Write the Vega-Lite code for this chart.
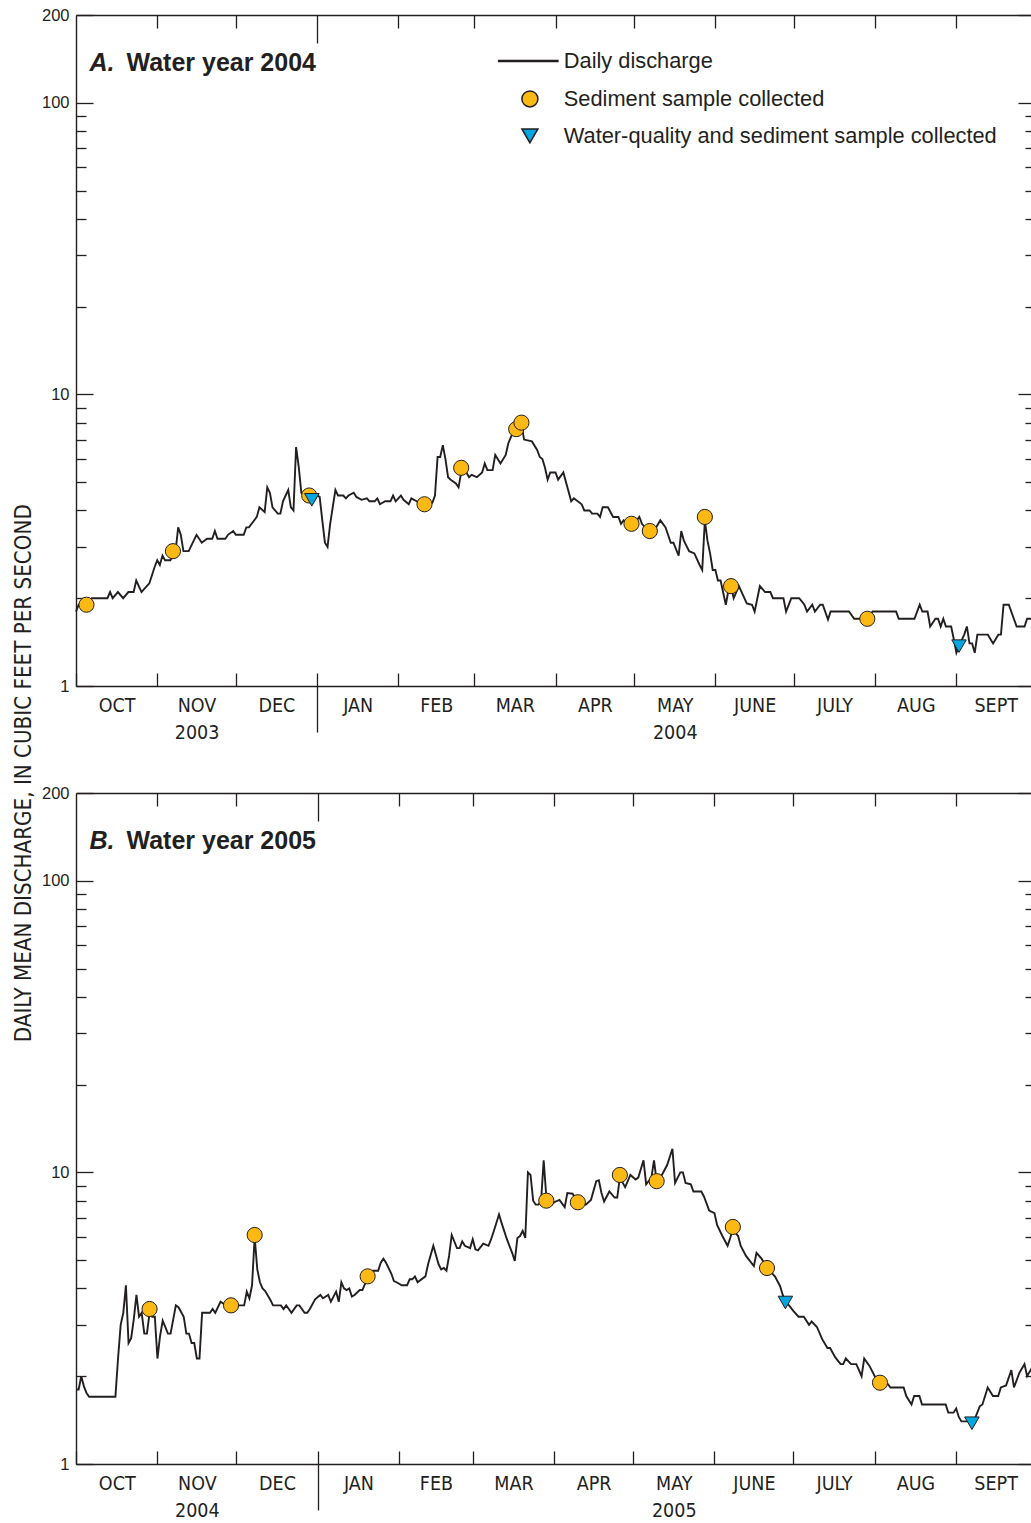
{
  "$schema": "https://vega.github.io/schema/vega-lite/v6.json",
  "background": "white",
  "padding": {"left": 12, "top": 7, "right": 0, "bottom": 0},
  "config": {
    "view": {"stroke": null},
    "font": "Liberation Sans",
    "axis": {"grid": false, "domainColor": "#231f20", "tickColor": "#231f20", "domainWidth": 1.4, "tickWidth": 1.3, "labelColor": "#231f20", "titleColor": "#231f20"}
  },
  "title": {"text": "DAILY MEAN DISCHARGE, IN CUBIC FEET PER SECOND", "orient": "left", "anchor": "middle", "font": "DejaVu Sans Condensed", "fontSize": 22.2, "fontWeight": "normal", "color": "#231f20", "offset": -11.5, "dx": -10, "baseline": "alphabetic"},
  "datasets": {
    "flow2004": [
      {"date":"2003/10/01","discharge":1.8},{"date":"2003/10/02","discharge":1.9},{"date":"2003/10/04","discharge":1.9},{"date":"2003/10/07","discharge":2.0},{"date":"2003/10/13","discharge":2.0},{"date":"2003/10/14","discharge":2.1},{"date":"2003/10/15","discharge":2.0},{"date":"2003/10/17","discharge":2.1},{"date":"2003/10/19","discharge":2.0},{"date":"2003/10/21","discharge":2.1},{"date":"2003/10/23","discharge":2.1},{"date":"2003/10/24","discharge":2.3},{"date":"2003/10/26","discharge":2.1},{"date":"2003/10/28","discharge":2.2},{"date":"2003/10/29","discharge":2.25},{"date":"2003/10/31","discharge":2.56},
      {"date":"2003/11/01","discharge":2.7},{"date":"2003/11/02","discharge":2.6},{"date":"2003/11/03","discharge":2.8},{"date":"2003/11/04","discharge":2.7},{"date":"2003/11/06","discharge":2.7},{"date":"2003/11/07","discharge":2.8},{"date":"2003/11/08","discharge":2.9},{"date":"2003/11/09","discharge":3.5},{"date":"2003/11/10","discharge":3.3},{"date":"2003/11/11","discharge":2.9},{"date":"2003/11/13","discharge":2.9},{"date":"2003/11/16","discharge":3.3},{"date":"2003/11/18","discharge":3.1},{"date":"2003/11/20","discharge":3.2},{"date":"2003/11/22","discharge":3.2},{"date":"2003/11/23","discharge":3.4},{"date":"2003/11/24","discharge":3.2},{"date":"2003/11/27","discharge":3.2},{"date":"2003/11/28","discharge":3.3},{"date":"2003/11/30","discharge":3.4},
      {"date":"2003/12/01","discharge":3.3},{"date":"2003/12/04","discharge":3.3},{"date":"2003/12/05","discharge":3.5},{"date":"2003/12/06","discharge":3.5},{"date":"2003/12/09","discharge":3.8},{"date":"2003/12/10","discharge":4.1},{"date":"2003/12/12","discharge":3.95},{"date":"2003/12/13","discharge":4.8},{"date":"2003/12/14","discharge":4.6},{"date":"2003/12/15","discharge":4.1},{"date":"2003/12/17","discharge":3.9},{"date":"2003/12/18","discharge":3.9},{"date":"2003/12/19","discharge":4.3},{"date":"2003/12/20","discharge":4.5},{"date":"2003/12/21","discharge":4.7},{"date":"2003/12/22","discharge":4.1},{"date":"2003/12/23","discharge":4.0},{"date":"2003/12/24","discharge":6.6},{"date":"2003/12/25","discharge":5.65},{"date":"2003/12/26","discharge":4.6},{"date":"2003/12/27","discharge":4.5},{"date":"2003/12/28","discharge":4.5},{"date":"2003/12/29","discharge":4.5},{"date":"2003/12/30","discharge":4.35},{"date":"2003/12/31","discharge":4.4},
      {"date":"2004/01/01","discharge":4.5},{"date":"2004/01/02","discharge":4.45},{"date":"2004/01/03","discharge":3.7},{"date":"2004/01/04","discharge":3.1},{"date":"2004/01/05","discharge":3.0},{"date":"2004/01/06","discharge":3.6},{"date":"2004/01/08","discharge":4.7},{"date":"2004/01/09","discharge":4.5},{"date":"2004/01/11","discharge":4.5},{"date":"2004/01/12","discharge":4.4},{"date":"2004/01/13","discharge":4.5},{"date":"2004/01/15","discharge":4.6},{"date":"2004/01/16","discharge":4.45},{"date":"2004/01/18","discharge":4.35},{"date":"2004/01/20","discharge":4.4},{"date":"2004/01/21","discharge":4.3},{"date":"2004/01/23","discharge":4.3},{"date":"2004/01/24","discharge":4.4},{"date":"2004/01/25","discharge":4.2},{"date":"2004/01/27","discharge":4.3},{"date":"2004/01/29","discharge":4.3},{"date":"2004/01/30","discharge":4.5},{"date":"2004/01/31","discharge":4.3},
      {"date":"2004/02/02","discharge":4.5},{"date":"2004/02/03","discharge":4.35},{"date":"2004/02/05","discharge":4.2},{"date":"2004/02/06","discharge":4.4},{"date":"2004/02/08","discharge":4.3},{"date":"2004/02/11","discharge":4.15},{"date":"2004/02/14","discharge":4.25},{"date":"2004/02/15","discharge":4.5},{"date":"2004/02/16","discharge":6.1},{"date":"2004/02/17","discharge":6.1},{"date":"2004/02/18","discharge":6.7},{"date":"2004/02/19","discharge":6.0},{"date":"2004/02/20","discharge":5.2},{"date":"2004/02/21","discharge":5.1},{"date":"2004/02/23","discharge":4.95},{"date":"2004/02/24","discharge":4.8},{"date":"2004/02/25","discharge":5.4},{"date":"2004/02/27","discharge":5.4},{"date":"2004/02/28","discharge":5.2},{"date":"2004/02/29","discharge":5.3},
      {"date":"2004/03/02","discharge":5.2},{"date":"2004/03/04","discharge":5.4},{"date":"2004/03/05","discharge":5.8},{"date":"2004/03/06","discharge":5.5},{"date":"2004/03/08","discharge":5.5},{"date":"2004/03/09","discharge":6.2},{"date":"2004/03/11","discharge":5.8},{"date":"2004/03/13","discharge":6.2},{"date":"2004/03/14","discharge":6.8},{"date":"2004/03/16","discharge":7.5},{"date":"2004/03/17","discharge":7.6},{"date":"2004/03/18","discharge":7.9},{"date":"2004/03/19","discharge":7.9},{"date":"2004/03/20","discharge":7.0},{"date":"2004/03/23","discharge":6.9},{"date":"2004/03/25","discharge":6.45},{"date":"2004/03/26","discharge":6.1},{"date":"2004/03/27","discharge":6.0},{"date":"2004/03/28","discharge":5.6},{"date":"2004/03/29","discharge":5.1},{"date":"2004/03/30","discharge":5.4},
      {"date":"2004/04/01","discharge":5.4},{"date":"2004/04/02","discharge":5.1},{"date":"2004/04/04","discharge":5.4},{"date":"2004/04/07","discharge":4.3},{"date":"2004/04/08","discharge":4.4},{"date":"2004/04/11","discharge":4.2},{"date":"2004/04/12","discharge":4.0},{"date":"2004/04/14","discharge":4.0},{"date":"2004/04/15","discharge":3.9},{"date":"2004/04/17","discharge":3.9},{"date":"2004/04/18","discharge":3.8},{"date":"2004/04/19","discharge":4.1},{"date":"2004/04/21","discharge":4.1},{"date":"2004/04/23","discharge":3.8},{"date":"2004/04/25","discharge":3.8},{"date":"2004/04/26","discharge":3.6},{"date":"2004/04/27","discharge":3.7},{"date":"2004/04/30","discharge":3.55},
      {"date":"2004/05/02","discharge":3.7},{"date":"2004/05/03","discharge":3.8},{"date":"2004/05/04","discharge":3.6},{"date":"2004/05/07","discharge":3.35},{"date":"2004/05/08","discharge":3.35},{"date":"2004/05/09","discharge":3.45},{"date":"2004/05/11","discharge":3.7},{"date":"2004/05/13","discharge":3.5},{"date":"2004/05/15","discharge":3.1},{"date":"2004/05/16","discharge":3.1},{"date":"2004/05/18","discharge":2.8},{"date":"2004/05/19","discharge":3.4},{"date":"2004/05/20","discharge":3.15},{"date":"2004/05/22","discharge":2.9},{"date":"2004/05/24","discharge":2.85},{"date":"2004/05/26","discharge":2.6},{"date":"2004/05/27","discharge":2.5},{"date":"2004/05/28","discharge":3.7},{"date":"2004/05/29","discharge":3.15},{"date":"2004/05/30","discharge":2.85},{"date":"2004/05/31","discharge":2.5},
      {"date":"2004/06/01","discharge":2.5},{"date":"2004/06/02","discharge":2.3},{"date":"2004/06/03","discharge":2.3},{"date":"2004/06/05","discharge":1.9},{"date":"2004/06/06","discharge":2.13},{"date":"2004/06/07","discharge":2.2},{"date":"2004/06/08","discharge":2.0},{"date":"2004/06/10","discharge":2.2},{"date":"2004/06/13","discharge":1.92},{"date":"2004/06/15","discharge":1.9},{"date":"2004/06/16","discharge":1.8},{"date":"2004/06/18","discharge":2.2},{"date":"2004/06/20","discharge":2.1},{"date":"2004/06/22","discharge":2.1},{"date":"2004/06/23","discharge":2.0},{"date":"2004/06/27","discharge":2.0},{"date":"2004/06/28","discharge":1.8},{"date":"2004/06/30","discharge":2.0},
      {"date":"2004/07/03","discharge":2.0},{"date":"2004/07/05","discharge":1.9},{"date":"2004/07/06","discharge":1.8},{"date":"2004/07/08","discharge":1.9},{"date":"2004/07/09","discharge":1.8},{"date":"2004/07/11","discharge":1.9},{"date":"2004/07/12","discharge":1.9},{"date":"2004/07/14","discharge":1.69},{"date":"2004/07/15","discharge":1.8},{"date":"2004/07/22","discharge":1.8},{"date":"2004/07/24","discharge":1.7},{"date":"2004/07/27","discharge":1.7},{"date":"2004/07/29","discharge":1.7},{"date":"2004/07/31","discharge":1.8},
      {"date":"2004/08/01","discharge":1.8},{"date":"2004/08/09","discharge":1.8},{"date":"2004/08/10","discharge":1.7},{"date":"2004/08/16","discharge":1.7},{"date":"2004/08/18","discharge":1.9},{"date":"2004/08/19","discharge":1.8},{"date":"2004/08/21","discharge":1.8},{"date":"2004/08/22","discharge":1.6},{"date":"2004/08/24","discharge":1.7},{"date":"2004/08/25","discharge":1.7},{"date":"2004/08/26","discharge":1.6},{"date":"2004/08/27","discharge":1.7},{"date":"2004/08/28","discharge":1.6},{"date":"2004/08/30","discharge":1.6},{"date":"2004/08/31","discharge":1.45},
      {"date":"2004/09/01","discharge":1.3},{"date":"2004/09/02","discharge":1.37},{"date":"2004/09/04","discharge":1.5},{"date":"2004/09/05","discharge":1.6},{"date":"2004/09/06","discharge":1.4},{"date":"2004/09/07","discharge":1.4},{"date":"2004/09/08","discharge":1.3},{"date":"2004/09/09","discharge":1.5},{"date":"2004/09/13","discharge":1.5},{"date":"2004/09/15","discharge":1.4},{"date":"2004/09/17","discharge":1.5},{"date":"2004/09/18","discharge":1.5},{"date":"2004/09/19","discharge":1.9},{"date":"2004/09/21","discharge":1.9},{"date":"2004/09/24","discharge":1.6},{"date":"2004/09/27","discharge":1.6},{"date":"2004/09/28","discharge":1.7},{"date":"2004/09/30","discharge":1.7}
    ],
    "sed2004": [
      {"date":"2003/10/05","discharge":1.9},{"date":"2003/11/07","discharge":2.9},{"date":"2003/12/29","discharge":4.5},{"date":"2004/02/11","discharge":4.2},{"date":"2004/02/25","discharge":5.6},{"date":"2004/03/17","discharge":7.6},{"date":"2004/03/19","discharge":8.0},{"date":"2004/04/30","discharge":3.6},{"date":"2004/05/07","discharge":3.4},{"date":"2004/05/28","discharge":3.8},{"date":"2004/06/07","discharge":2.2},{"date":"2004/07/29","discharge":1.7}
    ],
    "wq2004": [
      {"date":"2003/12/30","discharge":4.35},{"date":"2004/09/02","discharge":1.37}
    ],
    "flow2005": [
      {"date":"2004/10/01","discharge":1.8},{"date":"2004/10/02","discharge":1.8},{"date":"2004/10/03","discharge":2.0},{"date":"2004/10/04","discharge":1.85},{"date":"2004/10/05","discharge":1.75},{"date":"2004/10/06","discharge":1.7},{"date":"2004/10/16","discharge":1.7},{"date":"2004/10/17","discharge":2.3},{"date":"2004/10/18","discharge":3.0},{"date":"2004/10/19","discharge":3.3},{"date":"2004/10/20","discharge":4.1},{"date":"2004/10/21","discharge":2.6},{"date":"2004/10/22","discharge":2.7},{"date":"2004/10/23","discharge":3.14},{"date":"2004/10/24","discharge":3.8},{"date":"2004/10/25","discharge":3.2},{"date":"2004/10/26","discharge":3.3},{"date":"2004/10/27","discharge":2.8},{"date":"2004/10/28","discharge":2.8},{"date":"2004/10/29","discharge":3.3},{"date":"2004/10/30","discharge":3.2},{"date":"2004/10/31","discharge":3.2},
      {"date":"2004/11/01","discharge":2.3},{"date":"2004/11/02","discharge":2.75},{"date":"2004/11/03","discharge":3.1},{"date":"2004/11/05","discharge":2.8},{"date":"2004/11/06","discharge":2.8},{"date":"2004/11/08","discharge":3.5},{"date":"2004/11/09","discharge":3.45},{"date":"2004/11/11","discharge":3.2},{"date":"2004/11/12","discharge":2.8},{"date":"2004/11/13","discharge":2.8},{"date":"2004/11/14","discharge":2.6},{"date":"2004/11/15","discharge":2.6},{"date":"2004/11/16","discharge":2.3},{"date":"2004/11/17","discharge":2.3},{"date":"2004/11/18","discharge":3.3},{"date":"2004/11/21","discharge":3.3},{"date":"2004/11/22","discharge":3.4},{"date":"2004/11/23","discharge":3.3},{"date":"2004/11/25","discharge":3.6},{"date":"2004/11/27","discharge":3.5},{"date":"2004/11/29","discharge":3.5},
      {"date":"2004/12/01","discharge":3.5},{"date":"2004/12/04","discharge":3.5},{"date":"2004/12/05","discharge":3.9},{"date":"2004/12/06","discharge":3.7},{"date":"2004/12/07","discharge":4.1},{"date":"2004/12/08","discharge":6.0},{"date":"2004/12/09","discharge":4.65},{"date":"2004/12/10","discharge":4.2},{"date":"2004/12/11","discharge":4.0},{"date":"2004/12/12","discharge":3.92},{"date":"2004/12/14","discharge":3.65},{"date":"2004/12/15","discharge":3.5},{"date":"2004/12/18","discharge":3.5},{"date":"2004/12/19","discharge":3.4},{"date":"2004/12/20","discharge":3.5},{"date":"2004/12/21","discharge":3.4},{"date":"2004/12/22","discharge":3.3},{"date":"2004/12/24","discharge":3.5},{"date":"2004/12/25","discharge":3.5},{"date":"2004/12/27","discharge":3.3},{"date":"2004/12/28","discharge":3.3},{"date":"2004/12/29","discharge":3.4},{"date":"2004/12/31","discharge":3.67},
      {"date":"2005/01/02","discharge":3.8},{"date":"2005/01/03","discharge":3.7},{"date":"2005/01/05","discharge":3.8},{"date":"2005/01/06","discharge":3.6},{"date":"2005/01/07","discharge":3.75},{"date":"2005/01/08","discharge":3.9},{"date":"2005/01/09","discharge":3.6},{"date":"2005/01/10","discharge":4.2},{"date":"2005/01/11","discharge":4.0},{"date":"2005/01/12","discharge":3.95},{"date":"2005/01/13","discharge":4.0},{"date":"2005/01/14","discharge":3.75},{"date":"2005/01/15","discharge":3.8},{"date":"2005/01/17","discharge":3.95},{"date":"2005/01/18","discharge":3.95},{"date":"2005/01/20","discharge":4.35},{"date":"2005/01/22","discharge":4.6},{"date":"2005/01/24","discharge":4.6},{"date":"2005/01/25","discharge":4.9},{"date":"2005/01/26","discharge":5.06},{"date":"2005/01/27","discharge":4.9},{"date":"2005/01/29","discharge":4.5},{"date":"2005/01/30","discharge":4.24},{"date":"2005/01/31","discharge":4.2},
      {"date":"2005/02/02","discharge":4.1},{"date":"2005/02/04","discharge":4.1},{"date":"2005/02/05","discharge":4.3},{"date":"2005/02/06","discharge":4.3},{"date":"2005/02/07","discharge":4.4},{"date":"2005/02/08","discharge":4.2},{"date":"2005/02/11","discharge":4.4},{"date":"2005/02/12","discharge":4.84},{"date":"2005/02/14","discharge":5.6},{"date":"2005/02/16","discharge":4.84},{"date":"2005/02/17","discharge":4.65},{"date":"2005/02/18","discharge":4.7},{"date":"2005/02/19","discharge":4.6},{"date":"2005/02/20","discharge":5.17},{"date":"2005/02/21","discharge":6.1},{"date":"2005/02/23","discharge":5.5},{"date":"2005/02/24","discharge":5.5},{"date":"2005/02/25","discharge":5.8},{"date":"2005/02/26","discharge":5.6},{"date":"2005/02/28","discharge":5.5},
      {"date":"2005/03/01","discharge":5.9},{"date":"2005/03/02","discharge":5.45},{"date":"2005/03/03","discharge":5.4},{"date":"2005/03/05","discharge":5.7},{"date":"2005/03/07","discharge":5.6},{"date":"2005/03/08","discharge":5.9},{"date":"2005/03/09","discharge":6.28},{"date":"2005/03/11","discharge":7.17},{"date":"2005/03/12","discharge":6.7},{"date":"2005/03/14","discharge":5.9},{"date":"2005/03/16","discharge":5.3},{"date":"2005/03/17","discharge":4.97},{"date":"2005/03/18","discharge":5.96},{"date":"2005/03/19","discharge":6.05},{"date":"2005/03/20","discharge":6.3},{"date":"2005/03/21","discharge":5.96},{"date":"2005/03/22","discharge":10.0},{"date":"2005/03/23","discharge":9.8},{"date":"2005/03/24","discharge":8.0},{"date":"2005/03/25","discharge":7.75},{"date":"2005/03/26","discharge":7.75},{"date":"2005/03/27","discharge":7.95},{"date":"2005/03/28","discharge":11.0},{"date":"2005/03/29","discharge":8.27},{"date":"2005/03/30","discharge":8.0},{"date":"2005/03/31","discharge":7.75},
      {"date":"2005/04/01","discharge":7.9},{"date":"2005/04/03","discharge":8.05},{"date":"2005/04/05","discharge":7.6},{"date":"2005/04/06","discharge":8.5},{"date":"2005/04/08","discharge":8.45},{"date":"2005/04/10","discharge":7.9},{"date":"2005/04/13","discharge":7.75},{"date":"2005/04/15","discharge":8.05},{"date":"2005/04/17","discharge":9.33},{"date":"2005/04/18","discharge":9.4},{"date":"2005/04/19","discharge":8.5},{"date":"2005/04/20","discharge":7.95},{"date":"2005/04/21","discharge":8.27},{"date":"2005/04/22","discharge":8.6},{"date":"2005/04/24","discharge":8.2},{"date":"2005/04/25","discharge":8.2},{"date":"2005/04/26","discharge":9.6},{"date":"2005/04/28","discharge":8.9},{"date":"2005/04/29","discharge":9.33},{"date":"2005/04/30","discharge":9.8},
      {"date":"2005/05/02","discharge":9.45},{"date":"2005/05/03","discharge":9.6},{"date":"2005/05/05","discharge":11.0},{"date":"2005/05/06","discharge":9.1},{"date":"2005/05/08","discharge":9.6},{"date":"2005/05/09","discharge":11.0},{"date":"2005/05/10","discharge":9.33},{"date":"2005/05/12","discharge":9.8},{"date":"2005/05/14","discharge":10.6},{"date":"2005/05/16","discharge":12.05},{"date":"2005/05/17","discharge":9.2},{"date":"2005/05/19","discharge":10.0},{"date":"2005/05/20","discharge":10.0},{"date":"2005/05/21","discharge":9.2},{"date":"2005/05/23","discharge":9.1},{"date":"2005/05/24","discharge":8.6},{"date":"2005/05/27","discharge":8.6},{"date":"2005/05/28","discharge":8.27},{"date":"2005/05/30","discharge":7.4},
      {"date":"2005/06/01","discharge":7.25},{"date":"2005/06/02","discharge":6.6},{"date":"2005/06/04","discharge":6.05},{"date":"2005/06/06","discharge":5.6},{"date":"2005/06/07","discharge":5.96},{"date":"2005/06/08","discharge":6.4},{"date":"2005/06/09","discharge":6.2},{"date":"2005/06/10","discharge":6.05},{"date":"2005/06/11","discharge":5.6},{"date":"2005/06/13","discharge":5.17},{"date":"2005/06/16","discharge":4.77},{"date":"2005/06/17","discharge":5.3},{"date":"2005/06/19","discharge":5.05},{"date":"2005/06/21","discharge":4.7},{"date":"2005/06/24","discharge":4.4},{"date":"2005/06/26","discharge":4.07},{"date":"2005/06/27","discharge":3.8},{"date":"2005/06/28","discharge":3.6},{"date":"2005/06/29","discharge":3.53},
      {"date":"2005/07/01","discharge":3.35},{"date":"2005/07/03","discharge":3.2},{"date":"2005/07/05","discharge":3.2},{"date":"2005/07/07","discharge":3.0},{"date":"2005/07/08","discharge":3.08},{"date":"2005/07/10","discharge":2.95},{"date":"2005/07/12","discharge":2.68},{"date":"2005/07/14","discharge":2.5},{"date":"2005/07/15","discharge":2.5},{"date":"2005/07/17","discharge":2.32},{"date":"2005/07/19","discharge":2.2},{"date":"2005/07/20","discharge":2.2},{"date":"2005/07/21","discharge":2.3},{"date":"2005/07/23","discharge":2.2},{"date":"2005/07/25","discharge":2.2},{"date":"2005/07/27","discharge":2.0},{"date":"2005/07/28","discharge":2.3},{"date":"2005/07/30","discharge":2.17},
      {"date":"2005/08/01","discharge":2.0},{"date":"2005/08/03","discharge":1.9},{"date":"2005/08/06","discharge":1.88},{"date":"2005/08/07","discharge":1.83},{"date":"2005/08/12","discharge":1.83},{"date":"2005/08/13","discharge":1.71},{"date":"2005/08/15","discharge":1.6},{"date":"2005/08/16","discharge":1.71},{"date":"2005/08/18","discharge":1.71},{"date":"2005/08/19","discharge":1.6},{"date":"2005/08/28","discharge":1.6},{"date":"2005/08/29","discharge":1.5},{"date":"2005/08/31","discharge":1.5},
      {"date":"2005/09/01","discharge":1.55},{"date":"2005/09/02","discharge":1.45},{"date":"2005/09/03","discharge":1.4},{"date":"2005/09/06","discharge":1.4},{"date":"2005/09/07","discharge":1.38},{"date":"2005/09/08","discharge":1.42},{"date":"2005/09/10","discharge":1.58},{"date":"2005/09/11","discharge":1.6},{"date":"2005/09/13","discharge":1.83},{"date":"2005/09/15","discharge":1.71},{"date":"2005/09/17","discharge":1.71},{"date":"2005/09/18","discharge":1.83},{"date":"2005/09/20","discharge":1.86},{"date":"2005/09/22","discharge":2.1},{"date":"2005/09/23","discharge":1.83},{"date":"2005/09/25","discharge":2.05},{"date":"2005/09/27","discharge":2.2},{"date":"2005/09/28","discharge":2.0},{"date":"2005/09/30","discharge":2.15}
    ],
    "sed2005": [
      {"date":"2004/10/29","discharge":3.4},{"date":"2004/11/29","discharge":3.5},{"date":"2004/12/08","discharge":6.1},{"date":"2005/01/20","discharge":4.4},{"date":"2005/03/29","discharge":8.0},{"date":"2005/04/10","discharge":7.9},{"date":"2005/04/26","discharge":9.8},{"date":"2005/05/10","discharge":9.33},{"date":"2005/06/08","discharge":6.5},{"date":"2005/06/21","discharge":4.7},{"date":"2005/08/03","discharge":1.9}
    ],
    "wq2005": [
      {"date":"2005/06/28","discharge":3.58},{"date":"2005/09/07","discharge":1.38}
    ]
  },
  "bounds": "flush",
  "spacing": 107,
  "resolve": {"scale": {"color": "independent", "shape": "independent"}, "legend": {"color": "independent", "shape": "independent"}},
  "vconcat": [
    {
      "width": 959,
      "height": 671,
      "resolve": {"axis": {"x": "independent", "y": "independent"}},
      "layer": [
        {
          "data": {"name": "flow2004"},
          "mark": {"type": "line", "strokeWidth": 1.9, "color": "#231f20"},
          "encoding": {
            "x": {"field": "date", "type": "temporal",
              "scale": {"domain": [{"year":2003,"month":10,"date":1},{"year":2004,"month":10,"date":1}], "nice": false},
              "axis": {"orient": "bottom",
                "values": [{"year":2003,"month":10,"date":1},{"year":2003,"month":10,"date":16,"hours":12},{"year":2003,"month":11,"date":1},{"year":2003,"month":11,"date":16},{"year":2003,"month":12,"date":1},{"year":2003,"month":12,"date":16,"hours":12},{"year":2004,"month":1,"date":1},{"year":2004,"month":1,"date":16,"hours":12},{"year":2004,"month":2,"date":1},{"year":2004,"month":2,"date":15,"hours":12},{"year":2004,"month":3,"date":1},{"year":2004,"month":3,"date":16,"hours":12},{"year":2004,"month":4,"date":1},{"year":2004,"month":4,"date":16},{"year":2004,"month":5,"date":1},{"year":2004,"month":5,"date":16,"hours":12},{"year":2004,"month":6,"date":1},{"year":2004,"month":6,"date":16},{"year":2004,"month":7,"date":1},{"year":2004,"month":7,"date":16,"hours":12},{"year":2004,"month":8,"date":1},{"year":2004,"month":8,"date":16,"hours":12},{"year":2004,"month":9,"date":1},{"year":2004,"month":9,"date":16}],
                "tickSize": {"condition": {"test": "date(datum.value) == 1", "value": -13}, "value": 0},
                "labelExpr": "date(datum.value) == 1 ? '' : ((month(datum.value) == 10 || month(datum.value) == 4) ? [['JAN','FEB','MAR','APR','MAY','JUNE','JULY','AUG','SEPT','OCT','NOV','DEC'][month(datum.value)], '' + year(datum.value)] : ['JAN','FEB','MAR','APR','MAY','JUNE','JULY','AUG','SEPT','OCT','NOV','DEC'][month(datum.value)])",
                "labelFont": "DejaVu Sans Condensed", "labelFontSize": 19.5, "labelPadding": 10, "labelLineHeight": 27,
                "labelOverlap": false, "labelFlush": false, "labelAngle": 0, "domain": true,
                "title": "Water year 2004", "titleX": 50, "titleY": -616, "titleAlign": "left", "titleBaseline": "alphabetic", "titleAngle": 0,
                "titleFont": "Liberation Sans", "titleFontSize": 25, "titleFontWeight": "bold"}
            },
            "y": {"field": "discharge", "type": "quantitative",
              "scale": {"type": "log", "domain": [1, 200], "nice": false},
              "axis": {"orient": "left",
                "values": [1,2,3,4,5,6,7,8,9,10,20,30,40,50,60,70,80,90,100,200],
                "tickSize": {"condition": {"test": "datum.value == 1 || datum.value == 10 || datum.value == 100 || datum.value == 200", "value": -17}, "value": -10},
                "labelExpr": "(datum.value == 1 || datum.value == 10 || datum.value == 100 || datum.value == 200) ? format(datum.value, 'd') : ''",
                "labelPadding": 24, "labelFont": "Liberation Sans", "labelFontSize": 16.5, "labelOverlap": false, "labelFlush": false,
                "domain": true, "title": null}
            }
          }
        },
        {
          "data": {"name": "sed2004"},
          "mark": {"type": "point", "shape": "circle", "filled": true, "size": 230, "stroke": "#231f20", "strokeWidth": 1, "opacity": 1},
          "encoding": {
            "x": {"field": "date", "type": "temporal",
              "axis": {"orient": "bottom", "values": [{"year":2004,"month":1,"date":1}], "tickSize": 46, "labels": false, "domain": false, "title": null}},
            "y": {"field": "discharge", "type": "quantitative",
              "axis": {"orient": "right",
                "values": [1,2,3,4,5,6,7,8,9,10,20,30,40,50,60,70,80,90,100,200],
                "tickSize": {"condition": {"test": "datum.value == 1 || datum.value == 10 || datum.value == 100 || datum.value == 200", "value": -17}, "value": -10},
                "labels": false, "domain": true, "title": null}},
            "color": {"datum": "Sediment sample collected", "type": "nominal",
              "scale": {"domain": ["Daily discharge", "Sediment sample collected", "Water-quality and sediment sample collected"], "range": ["#231f20", "#FDB913", "#00A6E0"]},
              "legend": {"orient": "none", "legendX": 443, "legendY": 35, "title": null, "direction": "vertical",
                "labelFont": "Liberation Sans", "labelFontSize": 21.8, "labelColor": "#231f20", "labelOffset": 23, "labelLimit": 700,
                "rowPadding": 14, "symbolSize": 256, "padding": 0}},
            "shape": {"datum": "Sediment sample collected", "type": "nominal",
              "scale": {"domain": ["Daily discharge", "Sediment sample collected", "Water-quality and sediment sample collected"], "range": ["M-3.9,-0.06H3.5V0.06H-3.9Z", "circle", "triangle-down"]},
              "legend": {"orient": "none", "legendX": 443, "legendY": 35, "title": null, "direction": "vertical",
                "labelFont": "Liberation Sans", "labelFontSize": 21.8, "labelColor": "#231f20", "labelOffset": 23, "labelLimit": 700,
                "rowPadding": 14, "symbolSize": 256, "padding": 0}}
          }
        },
        {
          "data": {"name": "wq2004"},
          "mark": {"type": "point", "filled": true, "size": 210, "stroke": "#231f20", "strokeWidth": 1, "opacity": 1},
          "encoding": {
            "x": {"field": "date", "type": "temporal",
              "axis": {"orient": "top",
                "values": [{"year":2003,"month":11,"date":1},{"year":2003,"month":12,"date":1},{"year":2004,"month":1,"date":1},{"year":2004,"month":2,"date":1},{"year":2004,"month":3,"date":1},{"year":2004,"month":4,"date":1},{"year":2004,"month":5,"date":1},{"year":2004,"month":6,"date":1},{"year":2004,"month":7,"date":1},{"year":2004,"month":8,"date":1},{"year":2004,"month":9,"date":1}],
                "tickSize": {"condition": {"test": "month(datum.value) == 0", "value": -28}, "value": -13},
                "labels": false, "domain": true,
                "title": "A.", "titleX": 13, "titleY": 55, "titleAlign": "left", "titleBaseline": "alphabetic", "titleAngle": 0,
                "titleFont": "Liberation Sans", "titleFontSize": 25, "titleFontWeight": "bold", "titleFontStyle": "italic"}},
            "y": {"field": "discharge", "type": "quantitative", "axis": null},
            "color": {"datum": "Water-quality and sediment sample collected", "type": "nominal"},
            "shape": {"datum": "Water-quality and sediment sample collected", "type": "nominal"}
          }
        }
      ]
    },
    {
      "width": 959,
      "height": 671,
      "resolve": {"axis": {"x": "independent", "y": "independent"}},
      "layer": [
        {
          "data": {"name": "flow2005"},
          "mark": {"type": "line", "strokeWidth": 1.9, "color": "#231f20"},
          "encoding": {
            "x": {"field": "date", "type": "temporal",
              "scale": {"domain": [{"year":2004,"month":10,"date":1},{"year":2005,"month":10,"date":1}], "nice": false},
              "axis": {"orient": "bottom",
                "values": [{"year":2004,"month":10,"date":1},{"year":2004,"month":10,"date":16,"hours":12},{"year":2004,"month":11,"date":1},{"year":2004,"month":11,"date":16},{"year":2004,"month":12,"date":1},{"year":2004,"month":12,"date":16,"hours":12},{"year":2005,"month":1,"date":1},{"year":2005,"month":1,"date":16,"hours":12},{"year":2005,"month":2,"date":1},{"year":2005,"month":2,"date":15},{"year":2005,"month":3,"date":1},{"year":2005,"month":3,"date":16,"hours":12},{"year":2005,"month":4,"date":1},{"year":2005,"month":4,"date":16},{"year":2005,"month":5,"date":1},{"year":2005,"month":5,"date":16,"hours":12},{"year":2005,"month":6,"date":1},{"year":2005,"month":6,"date":16},{"year":2005,"month":7,"date":1},{"year":2005,"month":7,"date":16,"hours":12},{"year":2005,"month":8,"date":1},{"year":2005,"month":8,"date":16,"hours":12},{"year":2005,"month":9,"date":1},{"year":2005,"month":9,"date":16}],
                "tickSize": {"condition": {"test": "date(datum.value) == 1", "value": -13}, "value": 0},
                "labelExpr": "date(datum.value) == 1 ? '' : ((month(datum.value) == 10 || month(datum.value) == 4) ? [['JAN','FEB','MAR','APR','MAY','JUNE','JULY','AUG','SEPT','OCT','NOV','DEC'][month(datum.value)], '' + year(datum.value)] : ['JAN','FEB','MAR','APR','MAY','JUNE','JULY','AUG','SEPT','OCT','NOV','DEC'][month(datum.value)])",
                "labelFont": "DejaVu Sans Condensed", "labelFontSize": 19.5, "labelPadding": 10, "labelLineHeight": 27,
                "labelOverlap": false, "labelFlush": false, "labelAngle": 0, "domain": true,
                "title": "Water year 2005", "titleX": 50, "titleY": -616, "titleAlign": "left", "titleBaseline": "alphabetic", "titleAngle": 0,
                "titleFont": "Liberation Sans", "titleFontSize": 25, "titleFontWeight": "bold"}
            },
            "y": {"field": "discharge", "type": "quantitative",
              "scale": {"type": "log", "domain": [1, 200], "nice": false},
              "axis": {"orient": "left",
                "values": [1,2,3,4,5,6,7,8,9,10,20,30,40,50,60,70,80,90,100,200],
                "tickSize": {"condition": {"test": "datum.value == 1 || datum.value == 10 || datum.value == 100 || datum.value == 200", "value": -17}, "value": -10},
                "labelExpr": "(datum.value == 1 || datum.value == 10 || datum.value == 100 || datum.value == 200) ? format(datum.value, 'd') : ''",
                "labelPadding": 24, "labelFont": "Liberation Sans", "labelFontSize": 16.5, "labelOverlap": false, "labelFlush": false,
                "domain": true, "title": null}
            }
          }
        },
        {
          "data": {"name": "sed2005"},
          "mark": {"type": "point", "shape": "circle", "filled": true, "size": 230, "fill": "#FDB913", "stroke": "#231f20", "strokeWidth": 1, "opacity": 1},
          "encoding": {
            "x": {"field": "date", "type": "temporal",
              "axis": {"orient": "bottom", "values": [{"year":2005,"month":1,"date":1}], "tickSize": 46, "labels": false, "domain": false, "title": null}},
            "y": {"field": "discharge", "type": "quantitative",
              "axis": {"orient": "right",
                "values": [1,2,3,4,5,6,7,8,9,10,20,30,40,50,60,70,80,90,100,200],
                "tickSize": {"condition": {"test": "datum.value == 1 || datum.value == 10 || datum.value == 100 || datum.value == 200", "value": -17}, "value": -10},
                "labels": false, "domain": true, "title": null}}
          }
        },
        {
          "data": {"name": "wq2005"},
          "mark": {"type": "point", "shape": "triangle-down", "filled": true, "size": 210, "fill": "#00A6E0", "stroke": "#231f20", "strokeWidth": 1, "opacity": 1},
          "encoding": {
            "x": {"field": "date", "type": "temporal",
              "axis": {"orient": "top",
                "values": [{"year":2004,"month":11,"date":1},{"year":2004,"month":12,"date":1},{"year":2005,"month":1,"date":1},{"year":2005,"month":2,"date":1},{"year":2005,"month":3,"date":1},{"year":2005,"month":4,"date":1},{"year":2005,"month":5,"date":1},{"year":2005,"month":6,"date":1},{"year":2005,"month":7,"date":1},{"year":2005,"month":8,"date":1},{"year":2005,"month":9,"date":1}],
                "tickSize": {"condition": {"test": "month(datum.value) == 0", "value": -28}, "value": -13},
                "labels": false, "domain": true,
                "title": "B.", "titleX": 13, "titleY": 55, "titleAlign": "left", "titleBaseline": "alphabetic", "titleAngle": 0,
                "titleFont": "Liberation Sans", "titleFontSize": 25, "titleFontWeight": "bold", "titleFontStyle": "italic"}},
            "y": {"field": "discharge", "type": "quantitative", "axis": null}
          }
        }
      ]
    }
  ]
}
